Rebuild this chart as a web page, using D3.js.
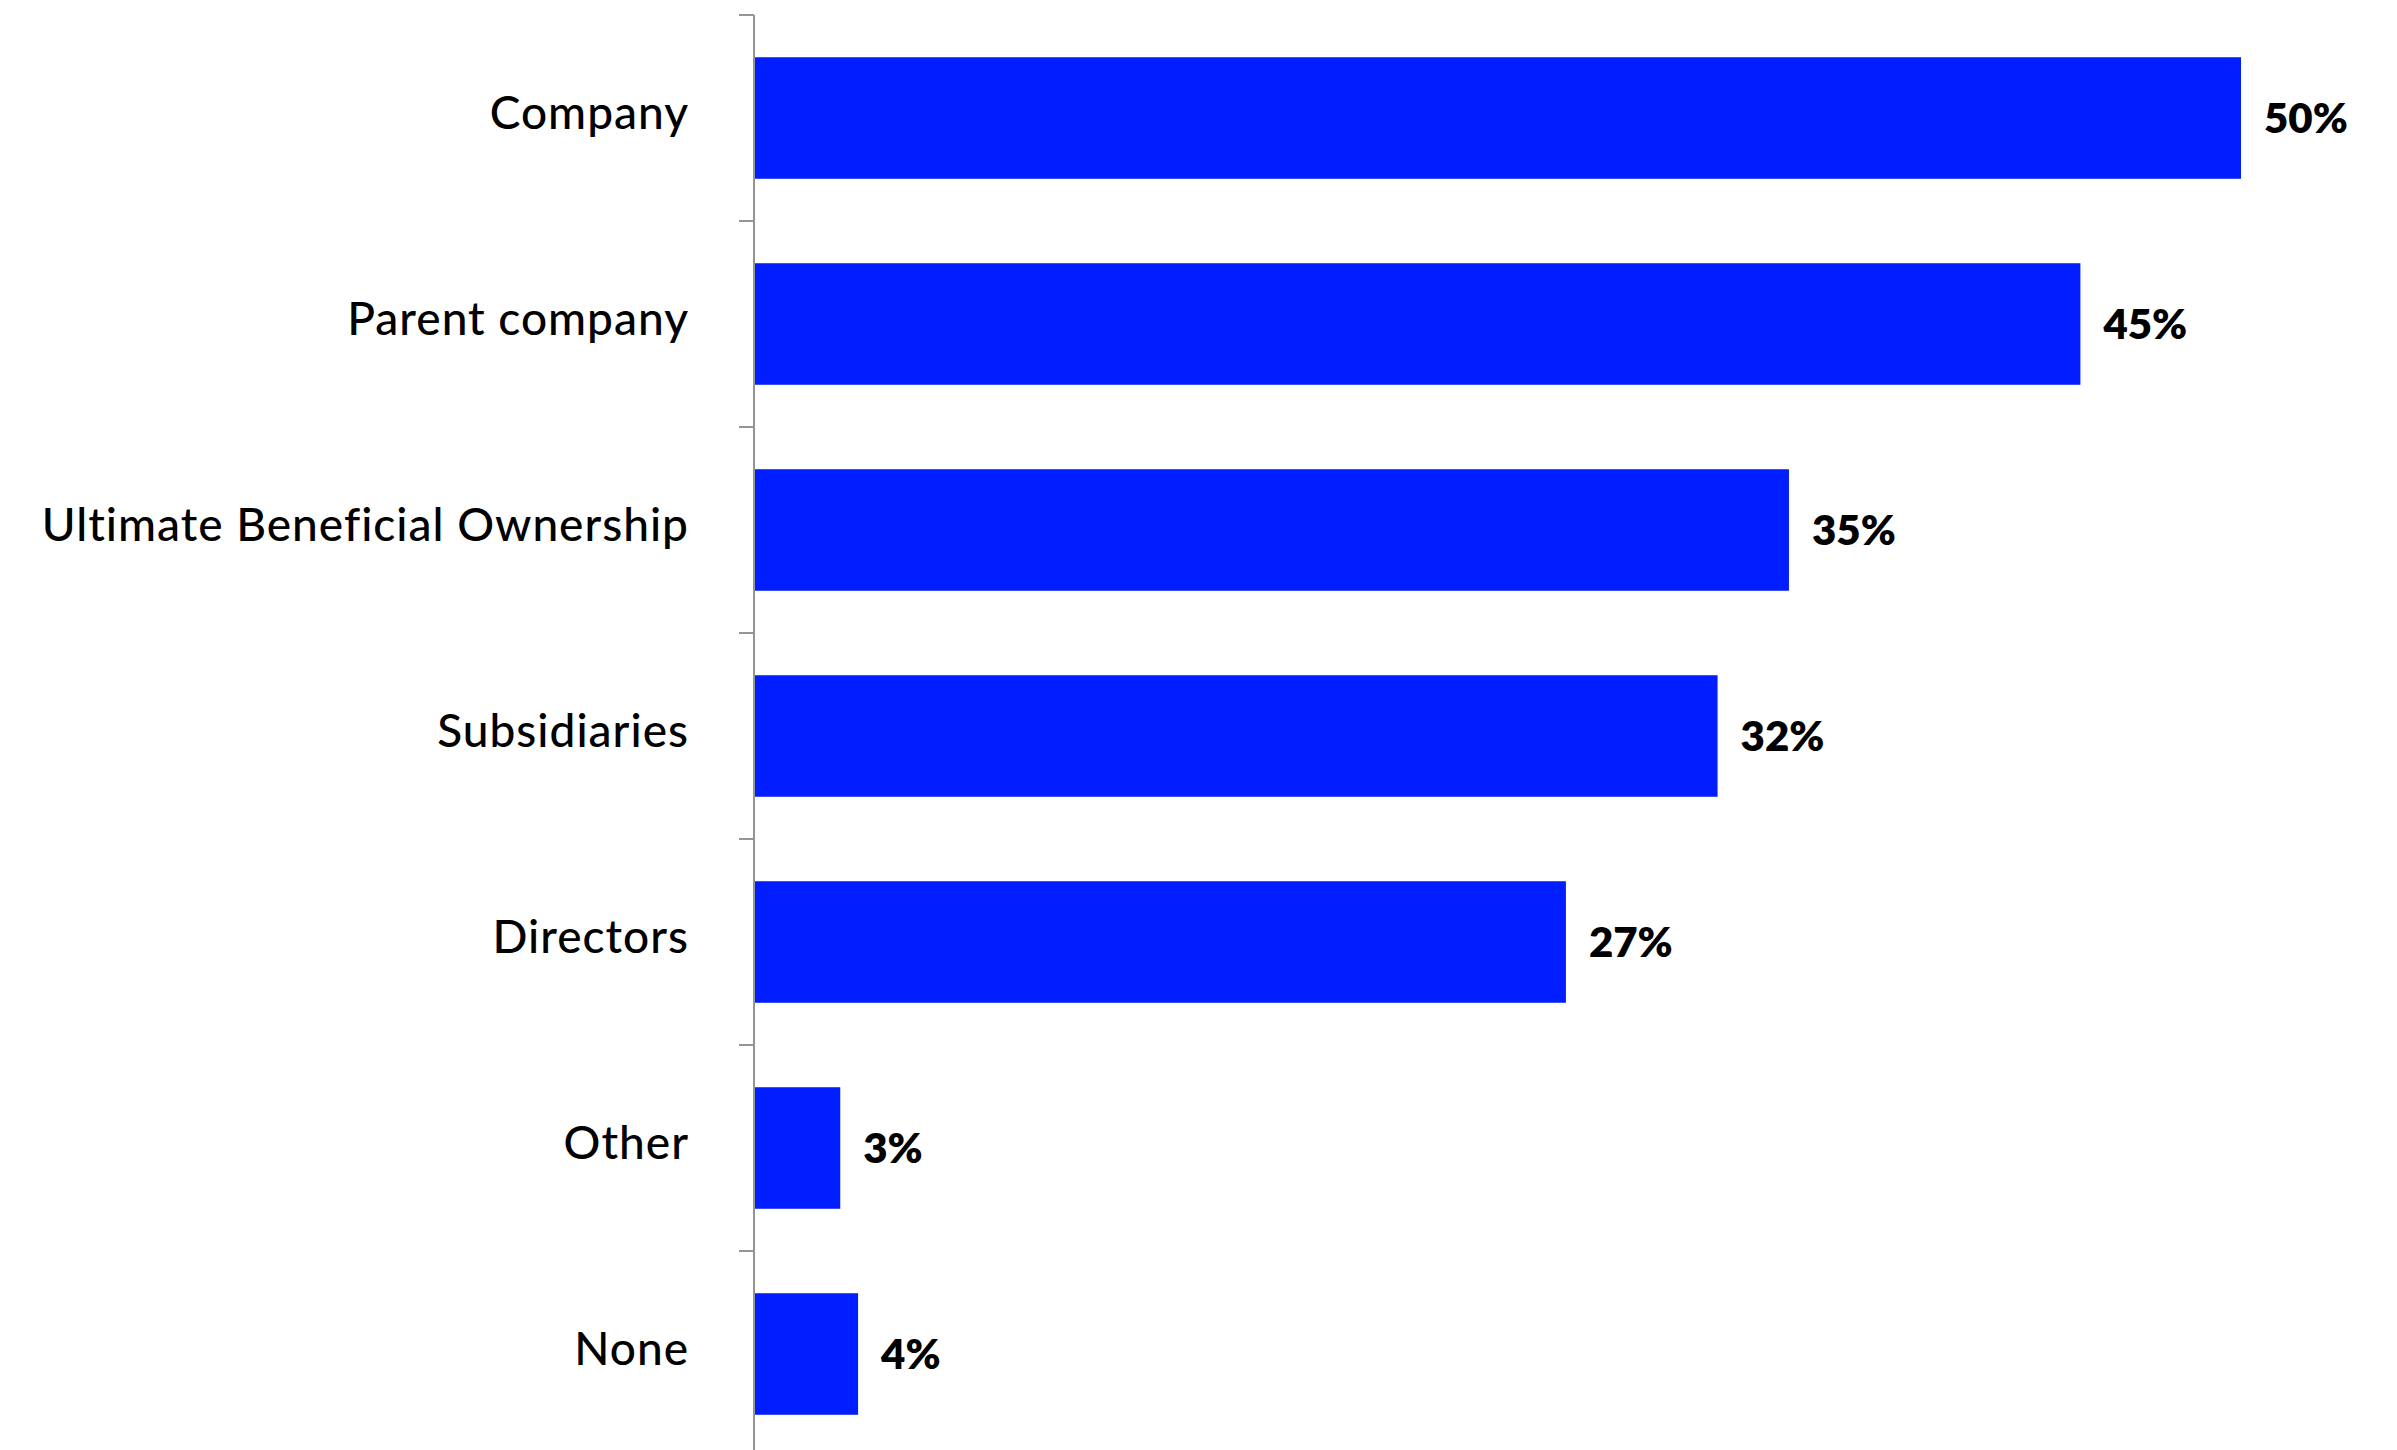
<!DOCTYPE html>
<html>
<head>
<meta charset="utf-8">
<script src="https://cdn.jsdelivr.net/npm/d3@7"></script>
<style>
  html, body { margin: 0; padding: 0; background: #ffffff; }
  svg { display: block; }
</style>
</head>
<body>
<svg id="chart" width="2397" height="1450"></svg>
<script>
const categories = ["Company", "Parent company", "Ultimate Beneficial Ownership", "Subsidiaries", "Directors", "Other", "None"];
const values = [50, 44.6, 34.8, 32.4, 27.3, 2.9, 3.5];
const valueLabels = ["50%", "45%", "35%", "32%", "27%", "3%", "4%"];

const W = 2397, H = 1450;
const axisX = 754;
const svg = d3.select("#chart");

const x = d3.scaleLinear().domain([0, 50]).range([axisX, 2241]);
const yOuter = d3.scaleBand().domain(categories).range([15, 15 + 206 * categories.length]).paddingInner(0).paddingOuter(0);
const yBar = d3.scaleBand().domain(categories).range([15, 15 + 206 * categories.length]).paddingInner(0.41).paddingOuter(0.205);

const barColor = "#001EFF";
const axisColor = "#959595";

// bars
svg.append("g").selectAll("rect")
  .data(categories)
  .join("rect")
  .attr("x", x(0))
  .attr("y", d => yBar(d))
  .attr("width", (d, i) => x(values[i]) - x(0))
  .attr("height", yBar.bandwidth())
  .attr("fill", barColor);

// axis line and ticks at band boundaries
const axisG = svg.append("g");
axisG.append("line")
  .attr("x1", axisX).attr("x2", axisX)
  .attr("y1", yOuter.range()[0]).attr("y2", yOuter.range()[1])
  .attr("stroke", axisColor).attr("stroke-width", 2);
axisG.selectAll("line.tick")
  .data(categories)
  .join("line")
  .attr("class", "tick")
  .attr("x1", axisX - 15).attr("x2", axisX)
  .attr("y1", d => yOuter(d)).attr("y2", d => yOuter(d))
  .attr("stroke", axisColor).attr("stroke-width", 2);

// category labels
svg.append("g").selectAll("text")
  .data(categories)
  .join("text")
  .attr("x", 689)
  .attr("y", d => yOuter(d) + yOuter.bandwidth() / 2 + 11)
  .attr("text-anchor", "end")
  .attr("font-family", "Lato, 'Open Sans', sans-serif")
  .attr("font-size", 46)
  .attr("font-weight", 500)
  .attr("letter-spacing", "1px")
  .attr("fill", "#000")
  .text(d => d);

// value labels
svg.append("g").selectAll("text")
  .data(categories)
  .join("text")
  .attr("x", (d, i) => x(values[i]) + 23)
  .attr("y", d => yBar(d) + yBar.bandwidth() / 2 + 15)
  .attr("font-family", "Lato, 'Open Sans', sans-serif")
  .attr("font-size", 42)
  .attr("font-weight", 800)
  .attr("fill", "#000")
  .text((d, i) => valueLabels[i]);
</script>
</body>
</html>
